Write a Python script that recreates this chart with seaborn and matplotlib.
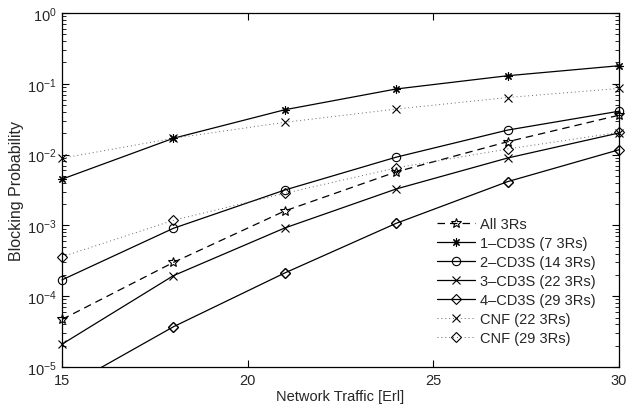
import numpy as np
import pandas as pd
import seaborn as sns
import matplotlib
matplotlib.use("Agg")
import matplotlib.pyplot as plt
from matplotlib.ticker import LogLocator, FixedLocator, NullFormatter

traffic = [15, 18, 21, 24, 27, 30]
all_3rs = [4.7e-5, 3.0e-4, 1.6e-3, 5.7e-3, 0.0152, 0.036]
cd3s_1 = [4.5e-3, 0.017, 0.043, 0.0845, 0.130, 0.18]
cd3s_2 = [1.7e-4, 9.1e-4, 3.16e-3, 9.2e-3, 0.0222, 0.041]
cd3s_3 = [2.1e-5, 1.95e-4, 9.2e-4, 3.27e-3, 8.95e-3, 0.0202]
cd3s_4 = [4.8e-6, 3.7e-5, 2.13e-4, 1.07e-3, 4.15e-3, 0.0117]
cnf_22 = [8.9e-3, 0.017, 0.0286, 0.044, 0.064, 0.086]
cnf_29 = [3.6e-4, 1.18e-3, 2.84e-3, 6.5e-3, 0.012, 0.0206]

labels = ["All 3Rs", "1\u2013CD3S (7 3Rs)", "2\u2013CD3S (14 3Rs)", "3\u2013CD3S (22 3Rs)",
          "4\u2013CD3S (29 3Rs)", "CNF (22 3Rs)", "CNF (29 3Rs)"]
series = [all_3rs, cd3s_1, cd3s_2, cd3s_3, cd3s_4, cnf_22, cnf_29]

styles = [
    dict(linestyle=(0, (6, 4)), marker="*", ms=7, lw=0.9, color="black"),
    dict(linestyle="-", marker=(8, 2, 0), ms=6, lw=0.9, color="black"),
    dict(linestyle="-", marker="o", ms=6, lw=0.9, color="black"),
    dict(linestyle="-", marker="x", ms=5.5, lw=0.9, color="black"),
    dict(linestyle="-", marker="D", ms=4.6, lw=0.9, color="black"),
    dict(linestyle=(0, (1, 3)), marker="x", ms=5.5, lw=0.7, color="#666666"),
    dict(linestyle=(0, (1, 3)), marker="D", ms=4.6, lw=0.7, color="#666666"),
]

sns.set_theme(style="white")
plt.rcParams["font.family"] = ["Liberation Sans", "DejaVu Sans"]
plt.rcParams["mathtext.fontset"] = "custom"
plt.rcParams["mathtext.rm"] = "Liberation Sans"
plt.rcParams["mathtext.it"] = "Liberation Sans"

fig = plt.figure(figsize=(6.39, 4.06), dpi=100)
ax = fig.add_axes([62 / 639, 1 - 368 / 406, (619 - 62) / 639, (368 - 14) / 406])
ax.set_yscale("log")
ax.set_xlim(15, 30)
ax.set_ylim(1e-5, 1e0)
ymin, ymax = ax.get_ylim()

for lab, vals, st in zip(labels, series, styles):
    df = pd.DataFrame({"traffic": traffic, "p": vals})
    inside = bool(df["p"].between(ymin, ymax).all())
    sns.lineplot(data=df, x="traffic", y="p", ax=ax, label=lab,
                 color=st["color"], linestyle=st["linestyle"], linewidth=st["lw"],
                 marker=st["marker"], markersize=st["ms"], markerfacecolor="none",
                 markeredgecolor="black", markeredgewidth=0.8, clip_on=not inside)
    if not inside:
        dfi = df[df["p"].between(ymin, ymax)]
        sns.lineplot(data=dfi, x="traffic", y="p", ax=ax, legend=False, linestyle="none",
                     marker=st["marker"], markersize=st["ms"], markerfacecolor="none",
                     markeredgecolor="black", markeredgewidth=0.8, clip_on=False)

ax.set_yscale("log")
ax.set_xlim(15, 30)
ax.set_ylim(1e-5, 1e0)
ax.xaxis.set_major_locator(FixedLocator([15, 20, 25, 30]))
ax.yaxis.set_major_locator(LogLocator(base=10, numticks=10))
ax.yaxis.set_minor_locator(LogLocator(base=10, subs=np.arange(2, 10), numticks=20))
ax.yaxis.set_minor_formatter(NullFormatter())
ax.tick_params(which="both", direction="in", top=True, right=True, bottom=True, left=True,
               color="black", labelsize=10.5, pad=4)
ax.tick_params(which="major", length=5, width=0.8)
ax.tick_params(which="minor", length=3, width=0.6)
for sp in ax.spines.values():
    sp.set_color("black")
    sp.set_linewidth(0.9)

ax.set_xlabel("Network Traffic [Erl]", fontsize=10.5, labelpad=2)
ax.set_ylabel("Blocking Probability", fontsize=11.5, labelpad=2)

leg = ax.legend(loc="upper left", bbox_to_anchor=(430 / 639, 1 - 211 / 406),
                bbox_transform=fig.transFigure, frameon=False, fontsize=10.5,
                handlelength=2.6, handletextpad=0.35, labelspacing=0.34, borderpad=0)

fig.savefig("out.png", dpi=100)
